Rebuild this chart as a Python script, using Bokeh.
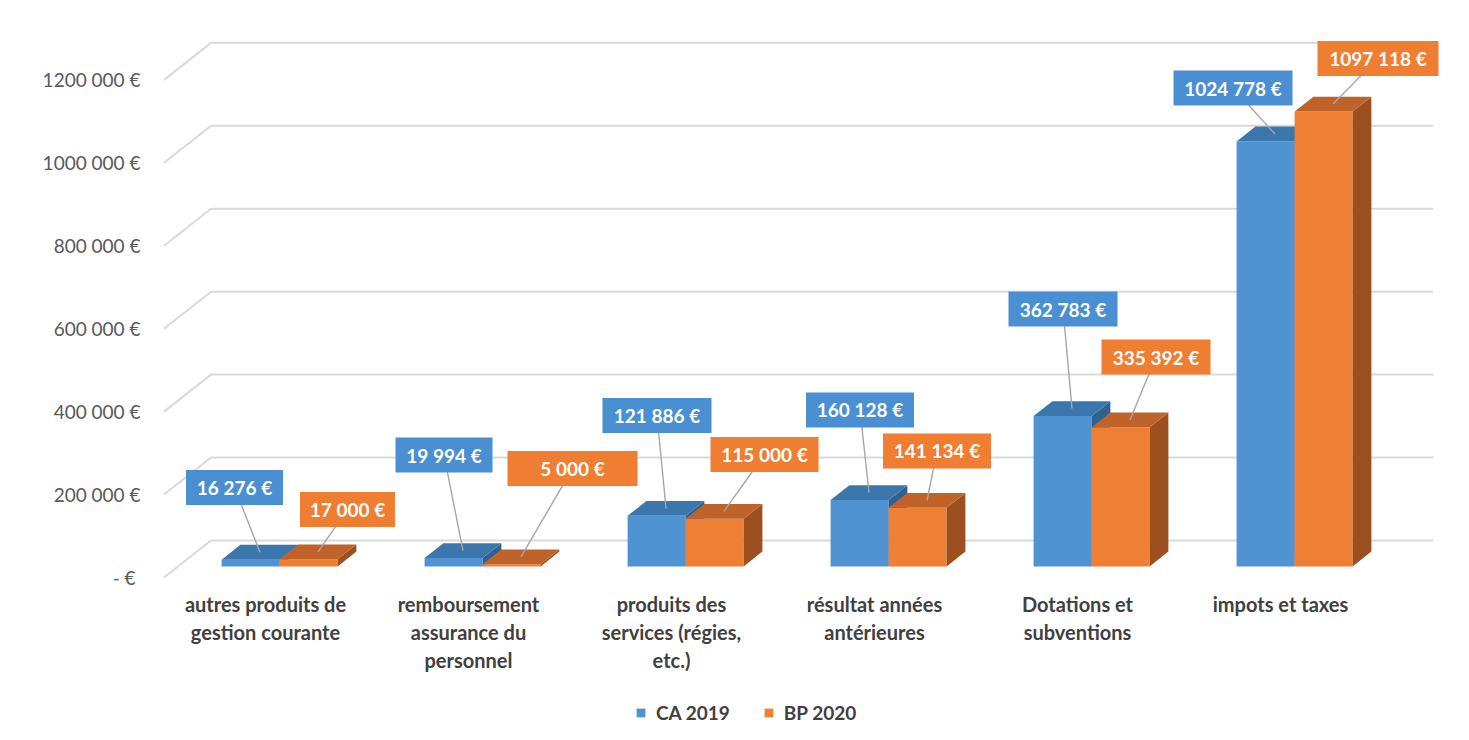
import numpy as np
from bokeh.plotting import figure
from bokeh.models import FixedTicker, Range1d, Legend, LegendItem
from bokeh.core.properties import value
from bokeh.embed import file_html
from bokeh.resources import INLINE

# ---------------- data ----------------
categories = [
    "autres produits de\ngestion courante",
    "remboursement\nassurance du\npersonnel",
    "produits des\nservices (régies,\netc.)",
    "résultat années\nantérieures",
    "Dotations et\nsubventions",
    "impots et taxes",
]
series_names = ["CA 2019", "BP 2020"]
ca_2019 = [16276, 19994, 121886, 160128, 362783, 1024778]
bp_2020 = [17000, 5000, 115000, 141134, 335392, 1097118]
y_ticks = [0, 200000, 400000, 600000, 800000, 1000000, 1200000]
y_tick_labels = ["-  €", "200 000 €", "400 000 €", "600 000 €",
                 "800 000 €", "1000 000 €", "1200 000 €"]

# ---------------- style / layout ----------------
FONT = "Lato"
BLUE = dict(front="#4f93d2", top="#3b76ad", side="#2e6293", box="#4a8fd1")
ORANGE = dict(front="#ef7f35", top="#c0632a", side="#9c5020", box="#ef7d32")
GRID = "#d9d9d9"

W, H = 1453, 724
MB_LEFT, MB_RIGHT, MB_TOP, MB_BOTTOM = 149, 6, 14, 0
FRAME_W = W - MB_LEFT - MB_RIGHT
FRAME_H = H - MB_TOP - MB_BOTTOM
PX_X = 203.0          # pixels per category
PX_Y = 0.0004147      # pixels per euro
CAT0_PX = 265.0       # figure x of category 0 (front of floor)
BASE_PX = 577.0       # figure y of value 0 at the front of the floor

x_start = (MB_LEFT - CAT0_PX) / PX_X
x_end = x_start + FRAME_W / PX_X
y_end = (BASE_PX - MB_TOP) / PX_Y
y_start = y_end - FRAME_H / PX_Y

# oblique depth vector (full floor depth), in data units
DX = 47.0 / PX_X
DY = 37.0 / PX_Y
T0, T1 = 0.3, 0.7     # bar depth span
BAR_W = 58.0 / PX_X
FLOOR_L, FLOOR_R = -0.5, 5.52

# label offsets in screen pixels (dx right, dy down) from bar top centre
ca_off = [(-25.5, -64.8), (-19, -95.7), (-9, -93), (-9, -82.6), (-9, -99.5), (-42, -46)]
bp_off = [(29.5, -42.5), (51.5, -88.4), (40.5, -56.8), (10, -49.5), (26, -62.9), (45, -45.5)]
ca_box_w = [97, 97, 109, 108, 109, 119]
bp_box_w = [95, 130, 108, 108, 109, 121]
BOX_H = 35


def fmt(v):
    return f"{v // 1000} {v % 1000:03d} €" if v >= 1000 else f"{v} €"


p = figure(width=W, height=H, output_backend="svg", toolbar_location=None,
           x_range=Range1d(x_start, x_end), y_range=Range1d(y_start, y_end),
           x_axis_location=None, min_border_left=MB_LEFT, min_border_right=MB_RIGHT,
           min_border_top=MB_TOP, min_border_bottom=MB_BOTTOM)
p.outline_line_color = None
p.grid.visible = False
p.background_fill_color = "white"
p.border_fill_color = "white"

# y axis
yax = p.yaxis[0]
yax.ticker = FixedTicker(ticks=y_ticks)
yax.major_label_overrides = {t: l for t, l in zip(y_ticks, y_tick_labels)}
yax.axis_line_color = None
yax.major_tick_line_color = None
yax.minor_tick_line_color = None
yax.major_tick_out = 0
yax.major_label_standoff = 9
yax.major_label_text_font = FONT
yax.major_label_text_font_size = "19px"
yax.major_label_text_color = "#595959"

# walls: back gridlines and left-side diagonals
ticks = np.array(y_ticks, dtype=float)
p.segment(x0=[FLOOR_L + DX] * len(ticks), y0=ticks + DY,
          x1=[FLOOR_R + DX] * len(ticks), y1=ticks + DY,
          line_color=GRID, line_width=2)
p.segment(x0=[FLOOR_L] * len(ticks), y0=ticks,
          x1=[FLOOR_L + DX] * len(ticks), y1=ticks + DY,
          line_color=GRID, line_width=2)


def faces(xl_list, vals):
    fr, sd, tp = ([], []), ([], []), ([], [])
    for xl, v in zip(xl_list, vals):
        xr = xl + BAR_W
        fr[0].append([xl + T0 * DX, xr + T0 * DX, xr + T0 * DX, xl + T0 * DX])
        fr[1].append([T0 * DY, T0 * DY, v + T0 * DY, v + T0 * DY])
        sd[0].append([xr + T0 * DX, xr + T1 * DX, xr + T1 * DX, xr + T0 * DX])
        sd[1].append([T0 * DY, T1 * DY, v + T1 * DY, v + T0 * DY])
        tp[0].append([xl + T0 * DX, xr + T0 * DX, xr + T1 * DX, xl + T1 * DX])
        tp[1].append([v + T0 * DY, v + T0 * DY, v + T1 * DY, v + T1 * DY])
    return fr, sd, tp


idx = np.arange(len(categories), dtype=float)
renderers = []
for xl, vals, col in [(idx - BAR_W, ca_2019, BLUE), (idx, bp_2020, ORANGE)]:
    fr, sd, tp = faces(xl, vals)
    r = p.patches(xs=fr[0], ys=fr[1], fill_color=col["front"], line_color=None)
    p.patches(xs=sd[0], ys=sd[1], fill_color=col["side"], line_color=None)
    p.patches(xs=tp[0], ys=tp[1], fill_color=col["top"], line_color=None)
    renderers.append(r)

# data labels with leader lines
TM = 0.5 * (T0 + T1)
for xl, vals, offs, bw, col in [(idx - BAR_W, ca_2019, ca_off, ca_box_w, BLUE),
                                (idx, bp_2020, bp_off, bp_box_w, ORANGE)]:
    vals = np.array(vals, dtype=float)
    cx = xl + BAR_W / 2 + TM * DX
    cy = vals + TM * DY
    ax = cx + np.array([o[0] for o in offs]) / PX_X
    ay = cy - np.array([o[1] for o in offs]) / PX_Y
    p.segment(x0=cx, y0=cy, x1=ax, y1=ay, line_color="#a6a6a6", line_width=1.4)
    p.rect(x=ax, y=ay, width=bw, height=BOX_H, width_units="screen",
           height_units="screen", fill_color=col["box"], line_color=None)
    p.text(x=ax, y=ay, text=[fmt(int(v)) for v in vals], text_align="center",
           text_baseline="middle", text_color="white", text_font=value(FONT),
           text_font_size="19px", text_font_style="bold")

# category labels (at the front edge of the floor)
p.text(x=idx, y=[0] * len(categories), text=categories, text_align="center",
       text_baseline="top", y_offset=14, text_color="#404040",
       text_font=value(FONT), text_font_size="20px", text_font_style="bold",
       text_line_height=1.18)

legend = Legend(items=[LegendItem(label=series_names[0], renderers=[renderers[0]]),
                       LegendItem(label=series_names[1], renderers=[renderers[1]])],
                orientation="horizontal", location=(486, 0),
                glyph_width=11, glyph_height=11, label_standoff=10, spacing=33,
                padding=0, margin=0, border_line_color=None,
                background_fill_alpha=0,
                label_text_font=FONT, label_text_font_size="19px",
                label_text_font_style="bold", label_text_color="#404040")
p.add_layout(legend)

open("out.html", "w").write(file_html(p, INLINE))
